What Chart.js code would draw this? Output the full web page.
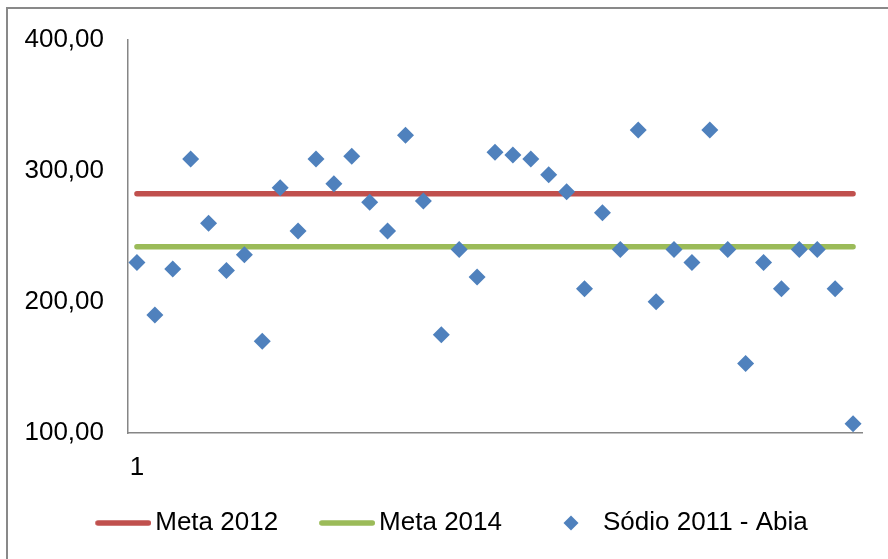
<!DOCTYPE html>
<html>
<head>
<meta charset="utf-8">
<script src="https://cdn.jsdelivr.net/npm/chart.js@4"></script>
<style>
  html, body { margin: 0; padding: 0; background: #fff; overflow: hidden; }
  #frame { position: absolute; left: 6px; top: 7px; width: 1000px; height: 1000px; border: 2px solid #898989; }
  #myChart { position: absolute; left: 0; top: 0; }
</style>
</head>
<body>
<div id="frame"></div>
<canvas id="myChart" width="888" height="559"></canvas>
<script>
var categories = ["1","2","3","4","5","6","7","8","9","10","11","12","13","14","15","16","17","18","19","20",
                  "21","22","23","24","25","26","27","28","29","30","31","32","33","34","35","36","37","38","39","40","41"];
// only the first category label is printed under the axis
var xTickLabels = ["1"];
var yTicks = [100, 200, 300, 400];

var meta2012 = [282.5,282.5,282.5,282.5,282.5,282.5,282.5,282.5,282.5,282.5,282.5,282.5,282.5,282.5,282.5,282.5,282.5,282.5,282.5,282.5,
                282.5,282.5,282.5,282.5,282.5,282.5,282.5,282.5,282.5,282.5,282.5,282.5,282.5,282.5,282.5,282.5,282.5,282.5,282.5,282.5,282.5];
var meta2014 = [242,242,242,242,242,242,242,242,242,242,242,242,242,242,242,242,242,242,242,242,
                242,242,242,242,242,242,242,242,242,242,242,242,242,242,242,242,242,242,242,242,242];
var sodio2011 = [230,190,225,309,260,224,236,170,287,254,309,290,311,276,254,327,277,175,240,219,
                 314,312,309,297,284,210,268,240,331,200,240,230,331,240,153,230,210,240,240,210,107];

var red = "#C0504D", green = "#9BBB59", blue = "#4F81BD";

// legend icons drawn on small canvases (line markers and a diamond)
function lineIcon(color) {
  var c = document.createElement("canvas");
  c.width = 106; c.height = 8;
  var g = c.getContext("2d");
  g.strokeStyle = color; g.lineWidth = 5.5; g.lineCap = "round";
  g.beginPath(); g.moveTo(52.75, 4); g.lineTo(103.25, 4); g.stroke();
  return c;
}
function diamondIcon(color) {
  var c = document.createElement("canvas");
  c.width = 66; c.height = 16;
  var g = c.getContext("2d");
  g.fillStyle = color;
  g.beginPath();
  g.moveTo(50.5, 8); g.lineTo(58, 0.5); g.lineTo(65.5, 8); g.lineTo(58, 15.5);
  g.closePath(); g.fill();
  return c;
}
var legendIcons = [lineIcon(red), lineIcon(green), diamondIcon(blue)];

Chart.defaults.font.family = "'Liberation Sans', Arial, sans-serif";
Chart.defaults.font.size = 26;
Chart.defaults.color = "#000";

var ctx = document.getElementById("myChart").getContext("2d");
var myChart = new Chart(ctx, {
  type: "line",
  data: {
    labels: categories,
    datasets: [
      { label: "Meta 2012", data: meta2012, borderColor: red, backgroundColor: red,
        borderWidth: 5.5, borderCapStyle: "round", pointRadius: 0, fill: false },
      { label: "Meta 2014", data: meta2014, borderColor: green, backgroundColor: green,
        borderWidth: 5.5, borderCapStyle: "round", pointRadius: 0, fill: false },
      { label: "Sódio 2011 - Abia", data: sodio2011, showLine: false, order: -1,
        pointStyle: "rectRot", pointRadius: 8.5, pointBorderWidth: 0,
        backgroundColor: blue, borderColor: blue, borderWidth: 0 }
    ]
  },
  options: {
    responsive: false,
    animation: false,
    layout: { padding: { left: 0, right: 26, top: 38, bottom: 13 } },
    plugins: {
      tooltip: { enabled: false },
      legend: {
        position: "bottom",
        labels: {
          usePointStyle: true,
          pointStyleWidth: 88,
          padding: 0,
          font: { size: 26 },
          sort: function(a, b) { return a.datasetIndex - b.datasetIndex; },
          generateLabels: function(chart) {
            var items = Chart.defaults.plugins.legend.labels.generateLabels(chart);
            items.forEach(function(it) { it.pointStyle = legendIcons[it.datasetIndex]; });
            return items;
          }
        }
      }
    },
    scales: {
      x: {
        offset: true,
        grid: { display: true, drawOnChartArea: false, drawTicks: false },
        border: { color: "#868686", width: 1.5 },
        ticks: {
          autoSkip: false, maxRotation: 0, padding: 19,
          callback: function(v, i) { return xTickLabels[i] || ""; }
        },
        afterFit: function(scale) { scale.height = 77; }
      },
      y: {
        min: 100, max: 400,
        grid: { display: true, drawOnChartArea: false, drawTicks: false },
        border: { color: "#868686", width: 1.5 },
        ticks: {
          stepSize: 100, padding: 24,
          callback: function(v) { return yTicks.indexOf(v) >= 0 ? v.toFixed(2).replace(".", ",") : ""; }
        },
        afterFit: function(scale) { scale.width = 128; }
      }
    }
  }
});
</script>
</body>
</html>
